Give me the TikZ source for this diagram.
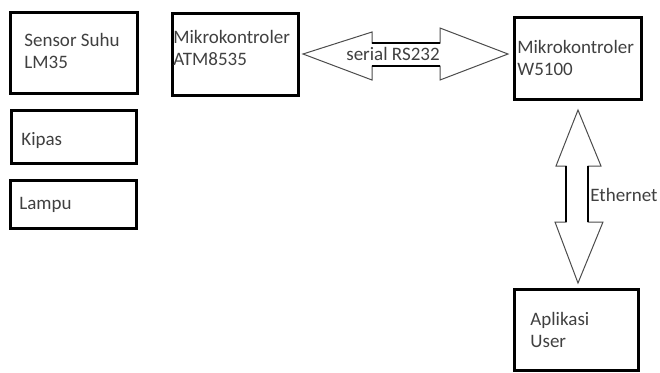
\documentclass[tikz,border=0pt]{standalone}
\usepackage{fontspec}
\setmainfont{Carlito}
\begin{document}
\begin{tikzpicture}[x=0.5pt,y=-0.5pt,
  box/.style={draw=black,line width=1.5pt},
  lbl/.style={anchor=west,inner sep=0pt,text=black!75,font=\fontsize{9.5}{11}\selectfont,align=left},
  arr/.style={draw=black!70,line width=0.5pt,fill=white,line join=miter},
  shaft/.style={draw=black,line width=1.1pt}]
\useasboundingbox (0,0) rectangle (660,372);
% boxes
\draw[box] (10,12) rectangle (137,93);
\draw[box] (11,110) rectangle (136,163);
\draw[box] (10,180) rectangle (136,228);
\draw[box] (172,13) rectangle (298,95);
\draw[box] (514,17) rectangle (641,99);
\draw[box] (514,289) rectangle (638,370);
% labels
\node[lbl] (sensor) at (24,51) {Sensor Suhu\\LM35};
\node[lbl] (kipas) at (21,140) {Kipas};
\node[lbl] (lampu) at (19,205) {Lampu};
\node[lbl] (atm) at (173,48) {Mikrokontroler\\ATM8535};
\node[lbl] (w5100) at (517,58) {Mikrokontroler\\W5100};
\node[lbl] (user) at (530,330) {Aplikasi\\User};
% horizontal double arrow
\draw[arr] (303,54) -- (372,32) -- (372,43) -- (440,43) -- (440,28) -- (508,54)
  -- (440,80) -- (440,66) -- (372,66) -- (372,80) -- cycle;
\draw[shaft] (372,43) -- (440,43) (372,66) -- (440,66);
\node[lbl,anchor=center] (serial) at (393,54) {serial RS232};
% vertical double arrow
\draw[arr] (578,110) -- (601,166) -- (588,166) -- (588,222) -- (603,222) -- (578,283)
  -- (555,222) -- (566,222) -- (566,166) -- (556,166) -- cycle;
\draw[shaft] (566,166) -- (566,222) (588,166) -- (588,222);
\node[lbl] (eth) at (590,195) {Ethernet};
\end{tikzpicture}
\end{document}
